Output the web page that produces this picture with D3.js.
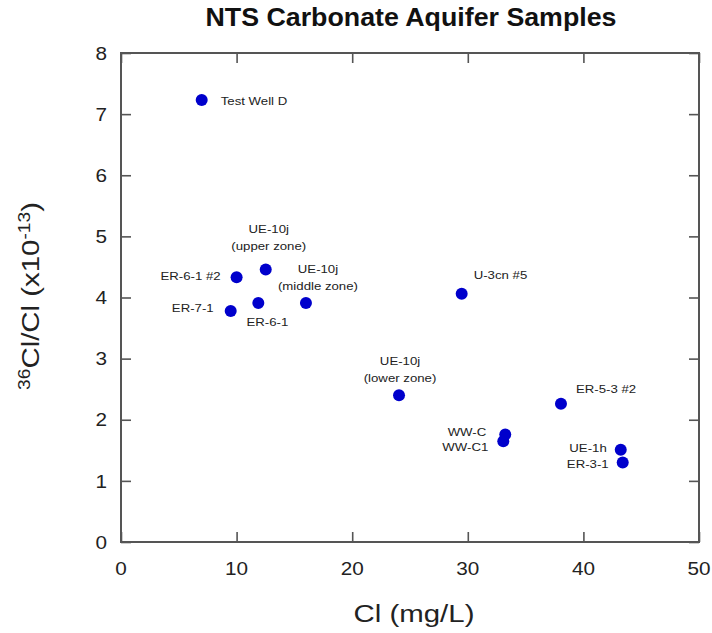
<!DOCTYPE html>
<html><head><meta charset="utf-8">
<script src="https://cdn.jsdelivr.net/npm/d3@7"></script>
<style>body{margin:0;background:#fff;} svg{display:block;}</style>
</head><body>
<svg id="c" width="712" height="633"></svg>
<script>
const names = ["Test Well D","ER-6-1 #2","UE-10j (upper zone)","ER-7-1","ER-6-1","UE-10j (middle zone)","U-3cn #5","UE-10j (lower zone)","ER-5-3 #2","WW-C","WW-C1","UE-1h","ER-3-1"];
const clValues = [6.98,10.0,12.52,9.49,11.88,16.0,29.47,24.05,38.06,33.24,33.07,43.23,43.4];
const ratioValues = [7.23,4.33,4.46,3.78,3.91,3.91,4.06,2.40,2.26,1.76,1.65,1.51,1.30];
const xTicks = [0,10,20,30,40,50];
const yTicks = [0,1,2,3,4,5,6,7,8];
// label placement: [lines, anchor, dx, dy(first line)]
const labelLines = {
 "Test Well D":[["Test Well D"],"start",19,1],
 "ER-6-1 #2":[["ER-6-1 #2"],"end",-16,-1],
 "UE-10j (upper zone)":[["UE-10j","(upper zone)"],"middle",3,-40],
 "ER-7-1":[["ER-7-1"],"end",-17,-3],
 "ER-6-1":[["ER-6-1"],"middle",9,19],
 "UE-10j (middle zone)":[["UE-10j","(middle zone)"],"middle",12,-34],
 "U-3cn #5":[["U-3cn #5"],"start",12,-19],
 "UE-10j (lower zone)":[["UE-10j","(lower zone)"],"middle",1,-34],
 "ER-5-3 #2":[["ER-5-3 #2"],"start",15,-15],
 "WW-C":[["WW-C"],"end",-19,-2],
 "WW-C1":[["WW-C1"],"end",-15,6],
 "UE-1h":[["UE-1h"],"end",-14,-2],
 "ER-3-1":[["ER-3-1"],"end",-14,1]
};
const data = names.map((n,i)=>({name:n,x:clValues[i],y:ratioValues[i]}));

const svg = d3.select("#c");
const L=121, R=699, T=53, B=542;
const x = d3.scaleLinear().domain([0,50]).range([L,R]);
const y = d3.scaleLinear().domain([0,8]).range([B,T]);
const axisColor="#555";
const font="Liberation Sans, Arial, sans-serif";

// stretched text helper
function stext(parent, px, py, s, anchor, size, txt, rot){
  const g = parent.append("g").attr("transform",`translate(${px},${py})${rot?` rotate(${rot})`:""} scale(${s},1)`);
  const t = g.append("text").attr("x",0).attr("y",0).attr("text-anchor",anchor)
    .attr("font-family",font).attr("font-size",size).attr("fill","#222");
  if (txt!=null) t.text(txt);
  return t;
}

const g = svg.append("g");
const tl=10;
g.append("g").attr("transform",`translate(0,${B})`).call(d3.axisTop(x).tickValues(xTicks).tickSize(tl).tickFormat(""));
g.append("g").attr("transform",`translate(0,${T})`).call(d3.axisBottom(x).tickValues(xTicks).tickSize(tl).tickFormat(""));
g.append("g").attr("transform",`translate(${L},0)`).call(d3.axisRight(y).tickValues(yTicks).tickSize(tl).tickFormat(""));
g.append("g").attr("transform",`translate(${R},0)`).call(d3.axisLeft(y).tickValues(yTicks).tickSize(tl).tickFormat(""));
g.selectAll(".domain").remove();
g.selectAll(".tick line").attr("stroke",axisColor).attr("stroke-width",1.6);
svg.append("rect").attr("x",L).attr("y",T).attr("width",R-L).attr("height",B-T)
  .attr("fill","none").attr("stroke",axisColor).attr("stroke-width",2);

// tick labels
const tg = svg.append("g");
xTicks.forEach(d=>stext(tg, x(d), B+33, 1.12, "middle", 18.5, d));
yTicks.forEach(d=>stext(tg, L-14, y(d)+6.7, 1.12, "end", 18.5, d));

// points
svg.append("g").selectAll("circle").data(data).join("circle")
  .attr("cx",d=>x(d.x)).attr("cy",d=>y(d.y)).attr("r",6).attr("fill","#0000cc");

// labels
const lg = svg.append("g");
data.forEach(d=>{
  const [lines,anchor,dx,dy]=labelLines[d.name];
  lines.forEach((t,i)=>{
    stext(lg, x(d.x)+dx, y(d.y)+dy+4+i*17, 1.12, anchor, 11.8, t);
  });
});

// title
stext(svg, 411, 26, 1.03, "middle", 26, "NTS Carbonate Aquifer Samples")
  .attr("font-weight","bold").attr("fill","#111");
// x title
stext(svg, 414, 622, 1.2, "middle", 24.5, "Cl (mg/L)");
// y title
const yt = stext(svg, 39, 296, 1.2, "middle", 24.5, null, -90);
yt.append("tspan").attr("font-size",16).attr("dy",-9).text("36");
yt.append("tspan").attr("dy",9).text("Cl/Cl (x10");
yt.append("tspan").attr("font-size",16).attr("dy",-9).text("-13");
yt.append("tspan").attr("dy",9).text(")");
</script>
</body></html>
